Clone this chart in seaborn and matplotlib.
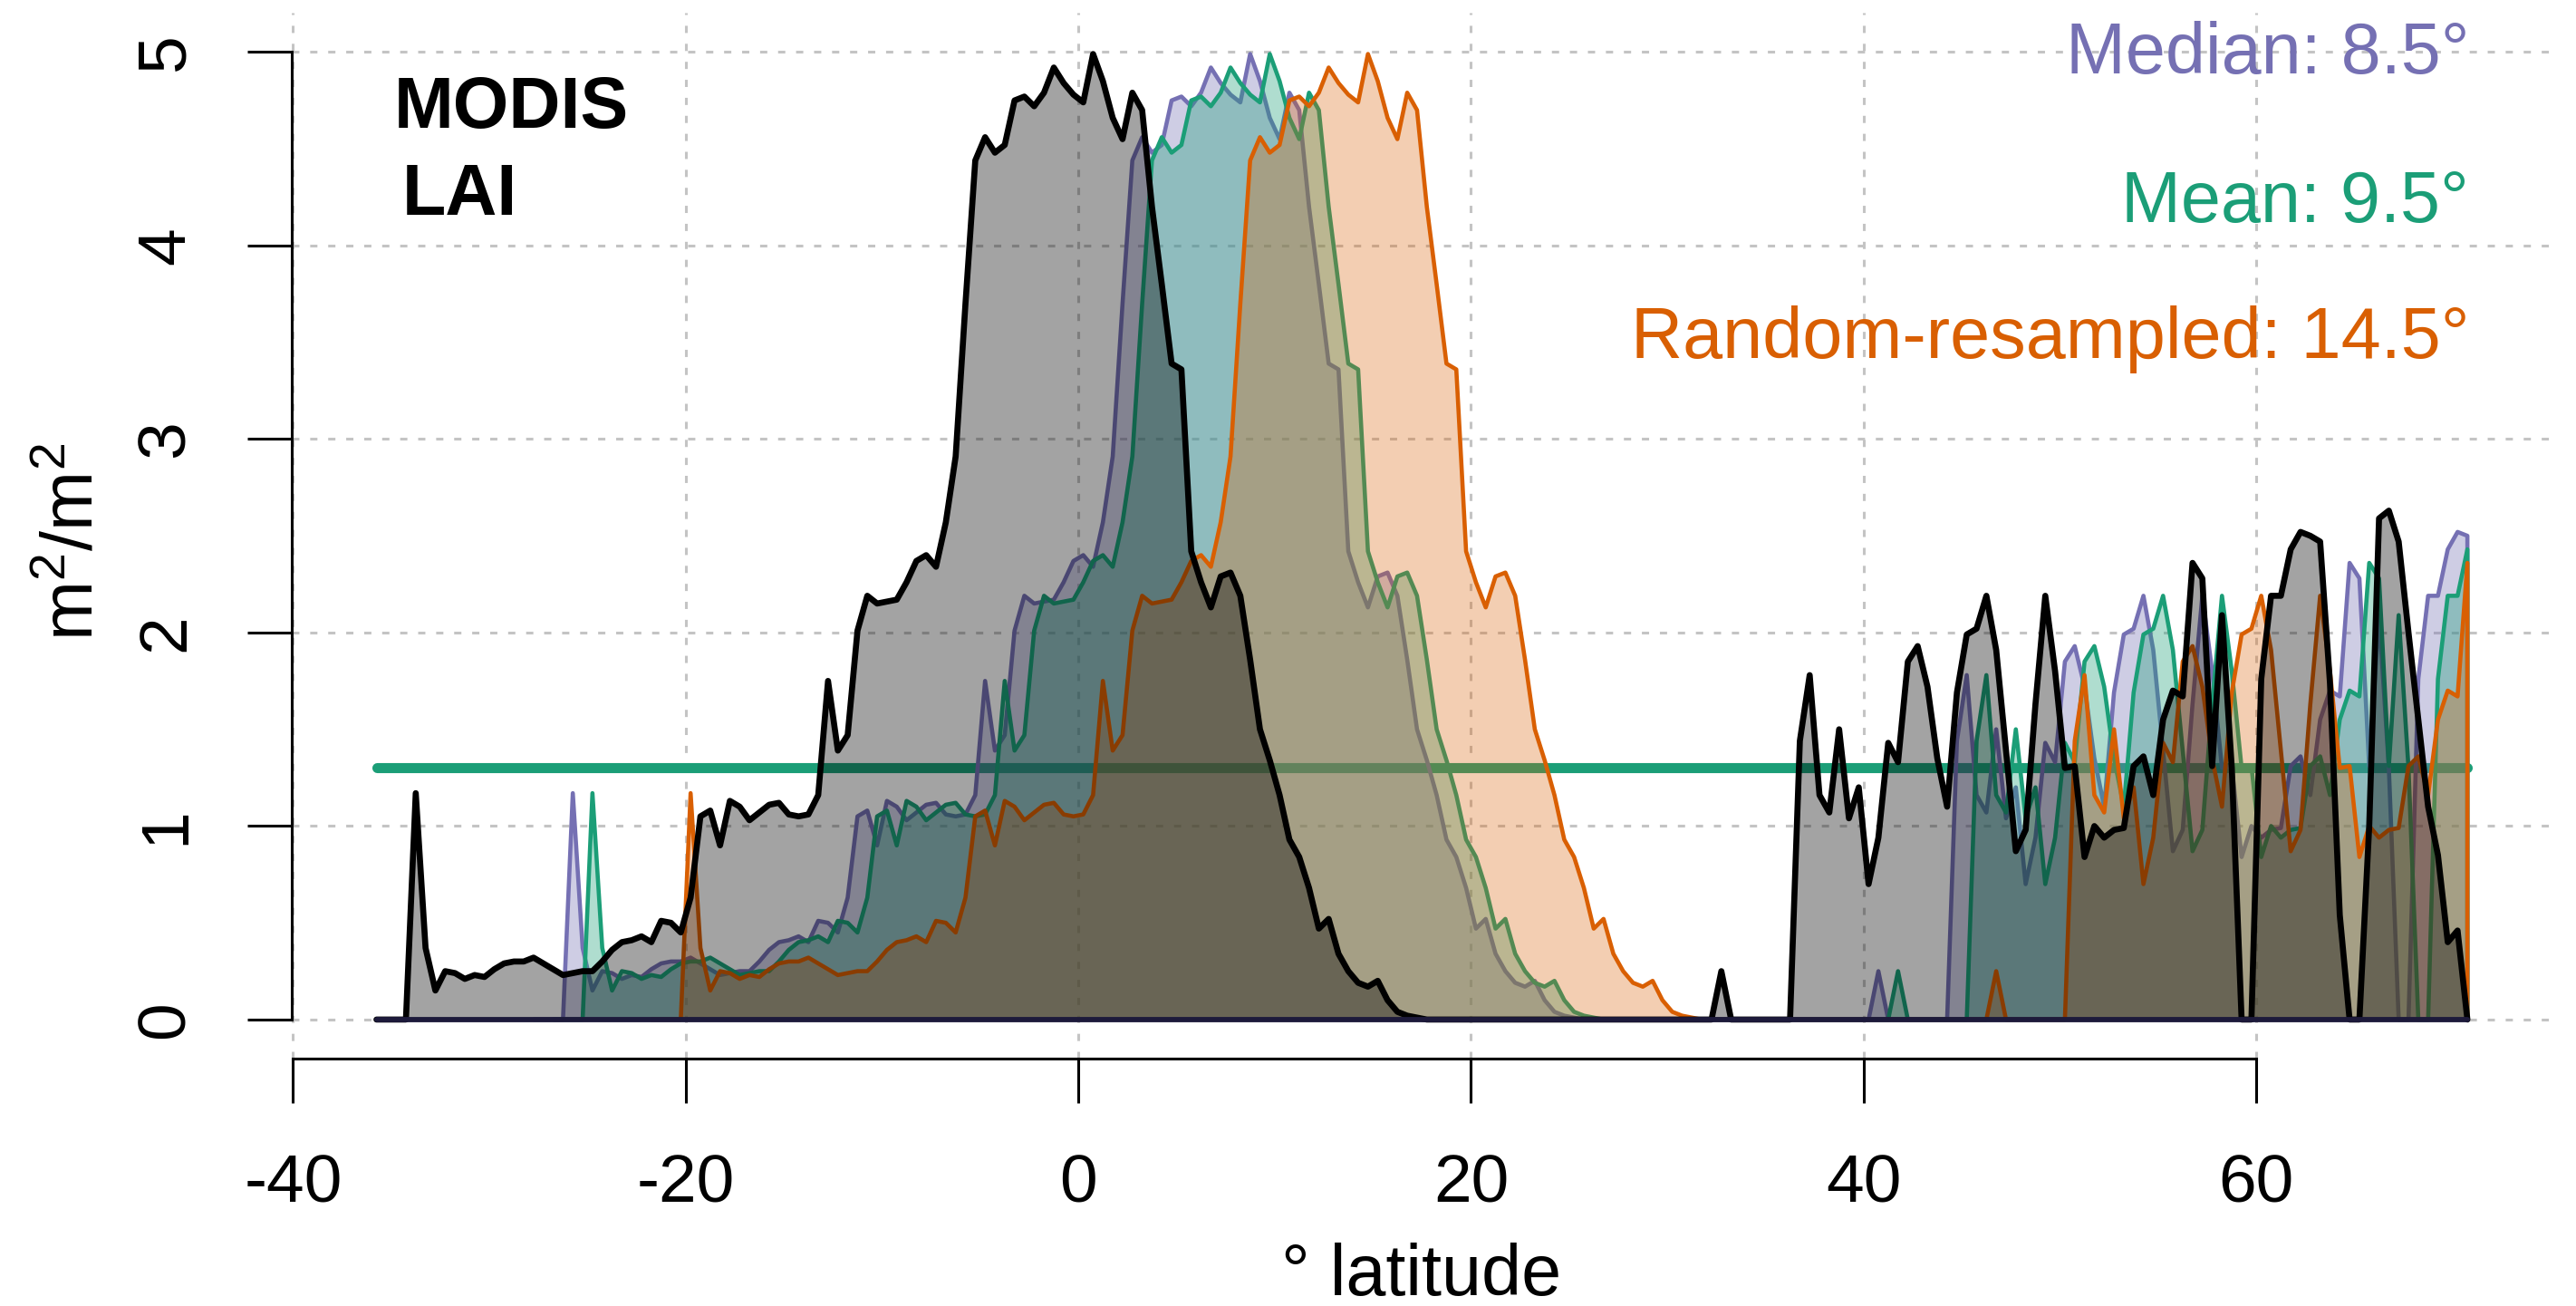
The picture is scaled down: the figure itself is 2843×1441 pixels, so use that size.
import numpy as np
import pandas as pd
import matplotlib
matplotlib.use("Agg")
import matplotlib.pyplot as plt
import seaborn as sns

# ---------------- data ----------------
lat = np.arange(-35.75, 70.76, 0.5)          # 0.5 degree latitude grid
lai = [
    0, 0, 0, 0, 1.17, 0.37, 0.15, 0.25, 0.24, 0.21,
    0.23, 0.22, 0.26, 0.29, 0.30, 0.30, 0.32, 0.29, 0.26, 0.23,
    0.24, 0.25, 0.25, 0.30, 0.36, 0.40, 0.41, 0.43, 0.40, 0.51,
    0.50, 0.45, 0.63, 1.05, 1.08, 0.90, 1.13, 1.10, 1.03, 1.07,
    1.11, 1.12, 1.06, 1.05, 1.06, 1.16, 1.75, 1.39, 1.47, 2.01,
    2.19, 2.15, 2.16, 2.17, 2.26, 2.37, 2.40, 2.34, 2.57, 2.91,
    3.70, 4.44, 4.56, 4.48, 4.52, 4.75, 4.77, 4.72, 4.79, 4.92,
    4.84, 4.78, 4.74, 4.99, 4.85, 4.66, 4.55, 4.79, 4.70, 4.20,
    3.80, 3.39, 3.36, 2.42, 2.26, 2.13, 2.29, 2.31, 2.19, 1.86,
    1.50, 1.34, 1.16, 0.93, 0.84, 0.68, 0.47, 0.52, 0.34, 0.25,
    0.19, 0.17, 0.20, 0.10, 0.04, 0.02, 0.01, 0, 0, 0,
    0, 0, 0, 0, 0, 0, 0, 0, 0, 0,
    0, 0, 0, 0, 0, 0, 0, 0, 0, 0,
    0, 0, 0, 0, 0, 0, 0, 0.25, 0, 0,
    0, 0, 0, 0, 0, 1.44, 1.78, 1.16, 1.07, 1.50,
    1.04, 1.20, 0.70, 0.94, 1.43, 1.33, 1.85, 1.93, 1.72, 1.35,
    1.10, 1.69, 1.99, 2.02, 2.19, 1.91, 1.39, 0.87, 0.98, 1.63,
    2.19, 1.80, 1.30, 1.31, 0.84, 1.00, 0.94, 0.98, 0.99, 1.31,
    1.36, 1.16, 1.55, 1.70, 1.67, 2.36, 2.28, 1.31, 2.09, 1.30,
    0, 0, 1.76, 2.19, 2.19, 2.43, 2.52, 2.50, 2.47, 1.74,
    0.54, 0, 0, 1.00, 2.59, 2.63, 2.47, 2.00, 1.55, 1.10,
    0.85, 0.40, 0.46, 0,
]
assert len(lai) == len(lat)

# drawing order: Median, Mean, Random-resampled, then MODIS on top
series_names = ["Median", "Mean", "Random-resampled", "MODIS"]
series_shift = [8.0, 9.0, 14.0, 0.0]        # displacement of each copy (deg)
series_colors = ["#7570B3", "#1B9E77", "#D95F02", "#000000"]
series_alpha = [0.35, 0.35, 0.30, 0.36]
series_lw = [3.3, 3.3, 3.3, 4.8]
threshold = 1.3

label_texts = ["Median: 8.5\u00b0", "Mean: 9.5\u00b0", "Random-resampled: 14.5\u00b0"]
label_colors = ["#7570B3", "#1B9E77", "#D95F02"]
xticks = [-40, -20, 0, 20, 40, 60]
yticks = [0, 1, 2, 3, 4, 5]
lat_max = 70.75

# build long table
rows = []
for name, sh in zip(series_names, series_shift):
    for la, v in zip(lat, lai):
        x = la + sh
        if x <= lat_max + 1e-9:
            rows.append((name, x, v))
df = pd.DataFrame(rows, columns=["series", "lat", "lai"])

# ---------------- style ----------------
sns.set_theme(style="ticks")
plt.rcParams["font.family"] = ["Liberation Sans", "DejaVu Sans"]
plt.rcParams["mathtext.fontset"] = "custom"
plt.rcParams["mathtext.rm"] = "Liberation Sans"
plt.rcParams["text.color"] = "black"
plt.rcParams["axes.labelcolor"] = "black"
plt.rcParams["xtick.color"] = "black"
plt.rcParams["ytick.color"] = "black"

fig = plt.figure(figsize=(28.43, 14.41), dpi=100)
ax = fig.add_axes([0.1133, 0.1895, 0.8767, 0.8005])
ax.set_xlim(-40.06, 74.97)
ax.set_ylim(-0.2014, 5.2016)

# grid (under everything)
for xv in xticks:
    ax.axvline(xv, color="#c4c4c4", lw=2.2, ls=(0, (2.6, 3.9)), zorder=0)
for yv in yticks:
    ax.axhline(yv, color="#c4c4c4", lw=2.2, ls=(0, (2.6, 3.9)), zorder=0)

# threshold line (under the polygons)
thr = pd.DataFrame({"lat": [lat[0], lat_max], "lai": [threshold, threshold]})
sns.lineplot(data=thr, x="lat", y="lai", color="#1B9E77", lw=8, ax=ax,
             legend=False, zorder=1, solid_capstyle="round")

# polygons (fill + outline), MODIS drawn last
z = 2
for name, col, a, lw in zip(series_names, series_colors, series_alpha, series_lw):
    sub = df[df["series"] == name]
    xs = np.concatenate([sub["lat"].values, [sub["lat"].values[-1]]])
    ys = np.concatenate([sub["lai"].values, [0.0]])
    poly = pd.DataFrame({"lat": xs, "lai": ys})
    ax.fill_between(xs, 0, ys, color=col, alpha=a, lw=0, zorder=z)
    sns.lineplot(data=poly, x="lat", y="lai", color=col, lw=lw, ax=ax,
                 sort=False, estimator=None, legend=False, zorder=z + 0.5)
    z += 1

# baseline
base = pd.DataFrame({"lat": [lat[0], lat_max], "lai": [0, 0]})
sns.lineplot(data=base, x="lat", y="lai", color="#1d1a3b", lw=4.2, ax=ax,
             legend=False, zorder=z + 2)

# axes look (R style)
for s in ["top", "right"]:
    ax.spines[s].set_visible(False)
ax.spines["left"].set_bounds(0, 5)
ax.spines["bottom"].set_bounds(-40, 60)
for s in ["left", "bottom"]:
    ax.spines[s].set_linewidth(2.2)
    ax.spines[s].set_color("black")
ax.set_xticks(xticks)
ax.set_xticklabels([str(t) for t in xticks], fontsize=54)
ax.set_yticks(yticks)
ax.set_yticklabels([str(t) for t in yticks], fontsize=54, rotation=90, va="center")
ax.tick_params(axis="both", direction="out", length=35, width=2.2, color="black",
               labelcolor="black", bottom=True, left=True)
ax.tick_params(axis="x", pad=40)
ax.tick_params(axis="y", pad=40)
ax.set_xlabel("")
ax.set_ylabel("")

fig.text(0.5 * (0.1133 + 0.99), 0.0083, "\u00b0 latitude", fontsize=57,
         ha="center", va="baseline", color="black")
fig.text(0.0288, 0.585, r"m$^\mathregular{2}$/m$^\mathregular{2}$", fontsize=57,
         rotation=90, ha="center", va="center", color="black")

# annotations
ax.text(-34.84, 4.61, "MODIS", fontsize=57, fontweight="bold", ha="left",
        va="baseline", color="black")
ax.text(-34.45, 4.157, "LAI", fontsize=57, fontweight="bold", ha="left",
        va="baseline", color="black")
for txt, col, yv in zip(label_texts, label_colors, [4.89, 4.122, 3.419]):
    ax.text(70.84, yv, txt, fontsize=57, color=col, ha="right", va="baseline")

fig.savefig("out.png", dpi=100)
